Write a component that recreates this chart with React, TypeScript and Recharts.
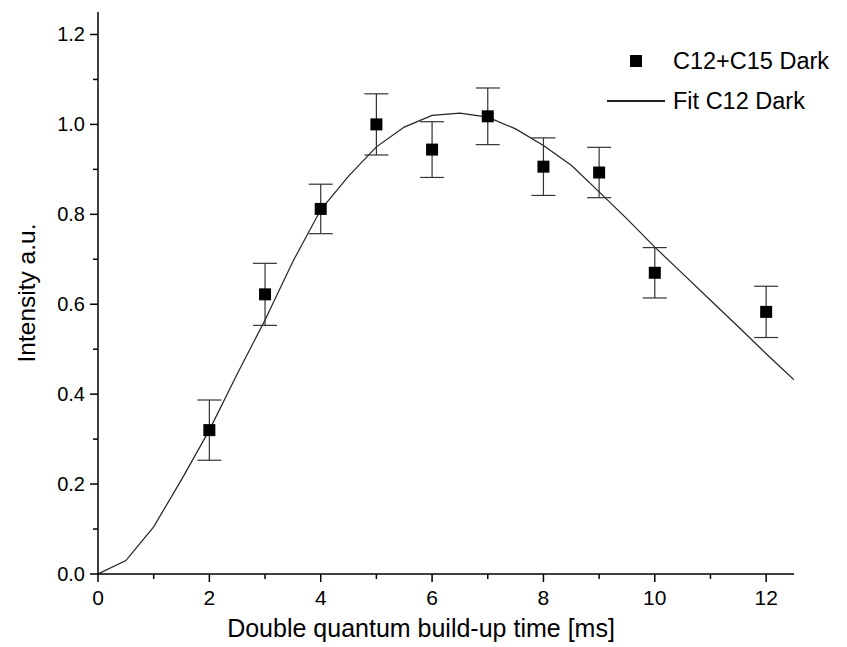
import { ComposedChart, Line, Scatter, ErrorBar, XAxis, YAxis } from 'recharts'

// fit curve, sampled every 0.5 ms
const fitTimes = [0, 0.5, 1, 1.5, 2, 2.5, 3, 3.5, 4, 4.5, 5, 5.5, 6, 6.5, 7, 7.5, 8, 8.5, 9, 9.5, 10, 10.5, 11, 11.5, 12, 12.5]
const fitValues = [0, 0.03, 0.105, 0.21, 0.32, 0.445, 0.565, 0.695, 0.81, 0.885, 0.95, 0.994, 1.02, 1.025, 1.016, 0.99, 0.953, 0.909, 0.85, 0.79, 0.727, 0.668, 0.609, 0.55, 0.49, 0.432]

// measured points
const timePoints = [2, 3, 4, 5, 6, 7, 8, 9, 10, 12]
const intensity = [0.32, 0.622, 0.812, 1.0, 0.944, 1.018, 0.906, 0.893, 0.67, 0.583]
const intensityErr = [0.067, 0.069, 0.055, 0.068, 0.062, 0.063, 0.064, 0.056, 0.056, 0.057]

const xTicks = [0, 1, 2, 3, 4, 5, 6, 7, 8, 9, 10, 11, 12]
const yTicks = [0, 0.1, 0.2, 0.3, 0.4, 0.5, 0.6, 0.7, 0.8, 0.9, 1.0, 1.1, 1.2]

const fitData = fitTimes.map((t, i) => ({ t, fit: fitValues[i] }))
const pointData = timePoints.map((t, i) => ({ t, v: intensity[i], err: intensityErr[i] }))

const FONT = '"Liberation Sans", Arial, sans-serif'

function XTick({ x, y, payload }: any) {
  const major = payload.value % 2 === 0
  return (
    <g>
      <line x1={x} x2={x} y1={y} y2={y + (major ? 8 : 5)} stroke="#000" strokeWidth={1.5} />
      {major && (
        <text x={x} y={y + 31} textAnchor="middle" fontSize={21} fontFamily={FONT} fill="#000">
          {payload.value}
        </text>
      )}
    </g>
  )
}

function YTick({ x, y, payload }: any) {
  const major = Math.round(payload.value * 10) % 2 === 0
  return (
    <g>
      <line x1={x - (major ? 8 : 5)} x2={x} y1={y} y2={y} stroke="#000" strokeWidth={1.5} />
      {major && (
        <text x={x - 13} y={y} dy="0.35em" textAnchor="end" fontSize={20} fontFamily={FONT} fill="#000">
          {payload.value.toFixed(1)}
        </text>
      )}
    </g>
  )
}

function SquareDot({ cx, cy }: any) {
  return <rect x={cx - 6} y={cy - 6} width={12} height={12} fill="#000" />
}

export default function App() {
  return (
    <div style={{ position: 'fixed', left: 0, top: 0, width: 847, height: 647, background: '#fff' }}>
      <ComposedChart width={847} height={647} margin={{ top: 12, right: 53, left: 0, bottom: 0 }}>
        <XAxis
          type="number"
          dataKey="t"
          domain={[0, 12.5]}
          ticks={xTicks}
          tick={<XTick />}
          tickLine={false}
          tickSize={0}
          tickMargin={0}
          axisLine={{ stroke: '#000', strokeWidth: 1.5 }}
          height={73}
          interval={0}
          allowDataOverflow
        />
        <YAxis
          type="number"
          domain={[0, 1.25]}
          ticks={yTicks}
          tick={<YTick />}
          tickLine={false}
          tickSize={0}
          tickMargin={0}
          axisLine={{ stroke: '#000', strokeWidth: 1.5 }}
          width={98}
          interval={0}
          allowDataOverflow
        />
        <Line
          data={fitData}
          dataKey="fit"
          type="linear"
          stroke="#222"
          strokeWidth={1.2}
          dot={false}
          isAnimationActive={false}
        />
        <Scatter data={pointData} dataKey="v" shape={<SquareDot />} isAnimationActive={false}>
          <ErrorBar dataKey="err" direction="y" width={12} stroke="#333" strokeWidth={1.2} isAnimationActive={false} />
        </Scatter>
      </ComposedChart>
      <div
        style={{
          position: 'absolute',
          left: 27,
          top: 293,
          transform: 'translate(-50%, -50%) rotate(-90deg)',
          fontFamily: FONT,
          fontSize: 24.5,
          whiteSpace: 'nowrap',
        }}
      >
        Intensity a.u.
      </div>
      <div
        style={{
          position: 'absolute',
          left: 421,
          top: 628,
          transform: 'translate(-50%, -50%)',
          fontFamily: FONT,
          fontSize: 25,
          whiteSpace: 'nowrap',
        }}
      >
        Double quantum build-up time [ms]
      </div>
      <div style={{ position: 'absolute', left: 607, top: 41, fontFamily: FONT, fontSize: 23.5, lineHeight: '40px' }}>
        <div style={{ display: 'flex', alignItems: 'center' }}>
          <span style={{ width: 58, display: 'flex', justifyContent: 'center' }}>
            <span style={{ width: 12, height: 12, background: '#000', display: 'inline-block' }} />
          </span>
          <span style={{ marginLeft: 8 }}>C12+C15 Dark</span>
        </div>
        <div style={{ display: 'flex', alignItems: 'center' }}>
          <span style={{ width: 58, height: 1.2, background: '#222', display: 'inline-block' }} />
          <span style={{ marginLeft: 8 }}>Fit C12 Dark</span>
        </div>
      </div>
    </div>
  )
}
